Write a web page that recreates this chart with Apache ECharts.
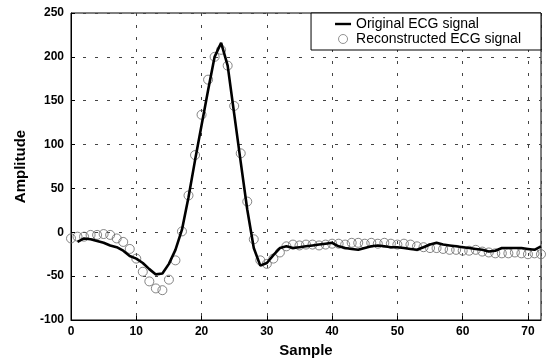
<!DOCTYPE html>
<html>
<head>
<meta charset="utf-8">
<script src="https://cdn.jsdelivr.net/npm/echarts@6/dist/echarts.min.js"></script>
<style>
html,body{margin:0;padding:0;background:#fff;}
#chart{width:547px;height:360px;}
</style>
</head>
<body>
<div id="chart"></div>
<script>
// Original ECG signal, samples 1..72
const originalSamples = [1,2,3,4,5,6,7,8,9,10,11,12,13,14,15,16,17,18,19,20,21,22,23,24,25,26,27,28,29,30,31,32,33,34,35,36,37,38,39,40,41,42,43,44,45,46,47,48,49,50,51,52,53,54,55,56,57,58,59,60,61,62,63,64,65,66,67,68,69,70,71,72];
const originalValues = [-11,-7,-8,-10,-12,-15,-17,-21,-27,-30,-35,-42,-48,-47,-36,-20,3,40,82,122,162,200,216,190,135,80,26,-18,-38,-35,-26,-18,-16,-18,-17,-16,-15,-14,-13,-12,-16,-18,-19,-20,-18,-16,-15,-16,-17,-17,-18,-19,-20,-17,-14,-12,-14,-15,-16,-17,-18,-19,-20,-22,-21,-18,-18,-18,-18,-19,-20,-16];

// Reconstructed ECG signal, samples 0..72
const reconSamples = [0,1,2,3,4,5,6,7,8,9,10,11,12,13,14,15,16,17,18,19,20,21,22,23,24,25,26,27,28,29,30,31,32,33,34,35,36,37,38,39,40,41,42,43,44,45,46,47,48,49,50,51,52,53,54,55,56,57,58,59,60,61,62,63,64,65,66,67,68,69,70,71,72];
const reconValues = [-7,-5,-5,-3,-3,-2,-3,-7,-11,-19,-30,-45,-56,-64,-66,-54,-32,1,42,88,134,174,200,208,190,144,90,35,-8,-32,-36,-30,-23,-16,-14,-15,-14,-14,-15,-14,-13,-13,-14,-12,-12,-13,-12,-13,-12,-13,-14,-13,-14,-16,-17,-18,-18,-19,-20,-20,-21,-21,-20,-22,-23,-24,-24,-24,-23,-24,-25,-24,-25];

const seriesNames = ['Original ECG signal', 'Reconstructed ECG signal'];
const xTitle = 'Sample';
const yTitle = 'Amplitude';

const font = '"Liberation Sans", Arial, sans-serif';
const chart = echarts.init(document.getElementById('chart'), null, {renderer: 'canvas'});
const gridLine = {show: true, lineStyle: {color: '#444', type: [3, 9], width: 1}};

chart.setOption({
  animation: false,
  backgroundColor: '#fff',
  grid: {left: 71, right: 6, top: 13, bottom: 40, show: true, borderColor: '#000', borderWidth: 1, backgroundColor: 'transparent', containLabel: false, outerBoundsMode: 'none'},
  legend: {
    orient: 'vertical', right: 6, top: 13,
    backgroundColor: '#fff', borderColor: '#000', borderWidth: 1,
    padding: [4, 20, 4, 24], itemGap: 1, itemWidth: 16, itemHeight: 9,
    textStyle: {fontFamily: font, fontSize: 14, color: '#000'},
    data: [
      {name: seriesNames[0], icon: 'path://M0,0 H20 V3 H0 Z', itemStyle: {color: '#000'}},
      {name: seriesNames[1], icon: 'circle', itemStyle: {color: 'rgba(255,255,255,0)', borderColor: '#777', borderWidth: 1}}
    ]
  },
  xAxis: {
    type: 'value', min: 0, max: 72, interval: 10,
    name: xTitle, nameLocation: 'middle', nameGap: 22,
    nameTextStyle: {fontFamily: font, fontSize: 15, fontWeight: 'bold', color: '#000'},
    axisLine: {show: true, onZero: false, lineStyle: {color: '#000', width: 1}},
    axisTick: {show: true, inside: true, length: 4, lineStyle: {color: '#000'}},
    axisLabel: {fontFamily: font, fontSize: 12, fontWeight: 'bold', color: '#000', margin: 6, showMaxLabel: false},
    splitLine: gridLine
  },
  yAxis: {
    type: 'value', min: -100, max: 250, interval: 50,
    name: yTitle, nameLocation: 'middle', nameGap: 43, nameRotate: 90,
    nameTextStyle: {fontFamily: font, fontSize: 15, fontWeight: 'bold', color: '#000'},
    axisLine: {show: true, onZero: false, lineStyle: {color: '#000', width: 1}},
    axisTick: {show: true, inside: true, length: 4, lineStyle: {color: '#000'}},
    axisLabel: {fontFamily: font, fontSize: 12, fontWeight: 'bold', color: '#000', margin: 7},
    splitLine: gridLine
  },
  series: [
    {
      name: seriesNames[0], type: 'line', z: 3,
      data: originalSamples.map((s, i) => [s, originalValues[i]]),
      showSymbol: false, symbol: 'none',
      lineStyle: {color: '#000', width: 2.6},
      itemStyle: {color: '#000'}
    },
    {
      name: seriesNames[1], type: 'scatter', z: 2,
      data: reconSamples.map((s, i) => [s, reconValues[i]]),
      symbol: 'circle', symbolSize: 9,
      itemStyle: {color: 'rgba(255,255,255,0)', borderColor: '#666', borderWidth: 1}
    }
  ]
});
</script>
</body>
</html>
